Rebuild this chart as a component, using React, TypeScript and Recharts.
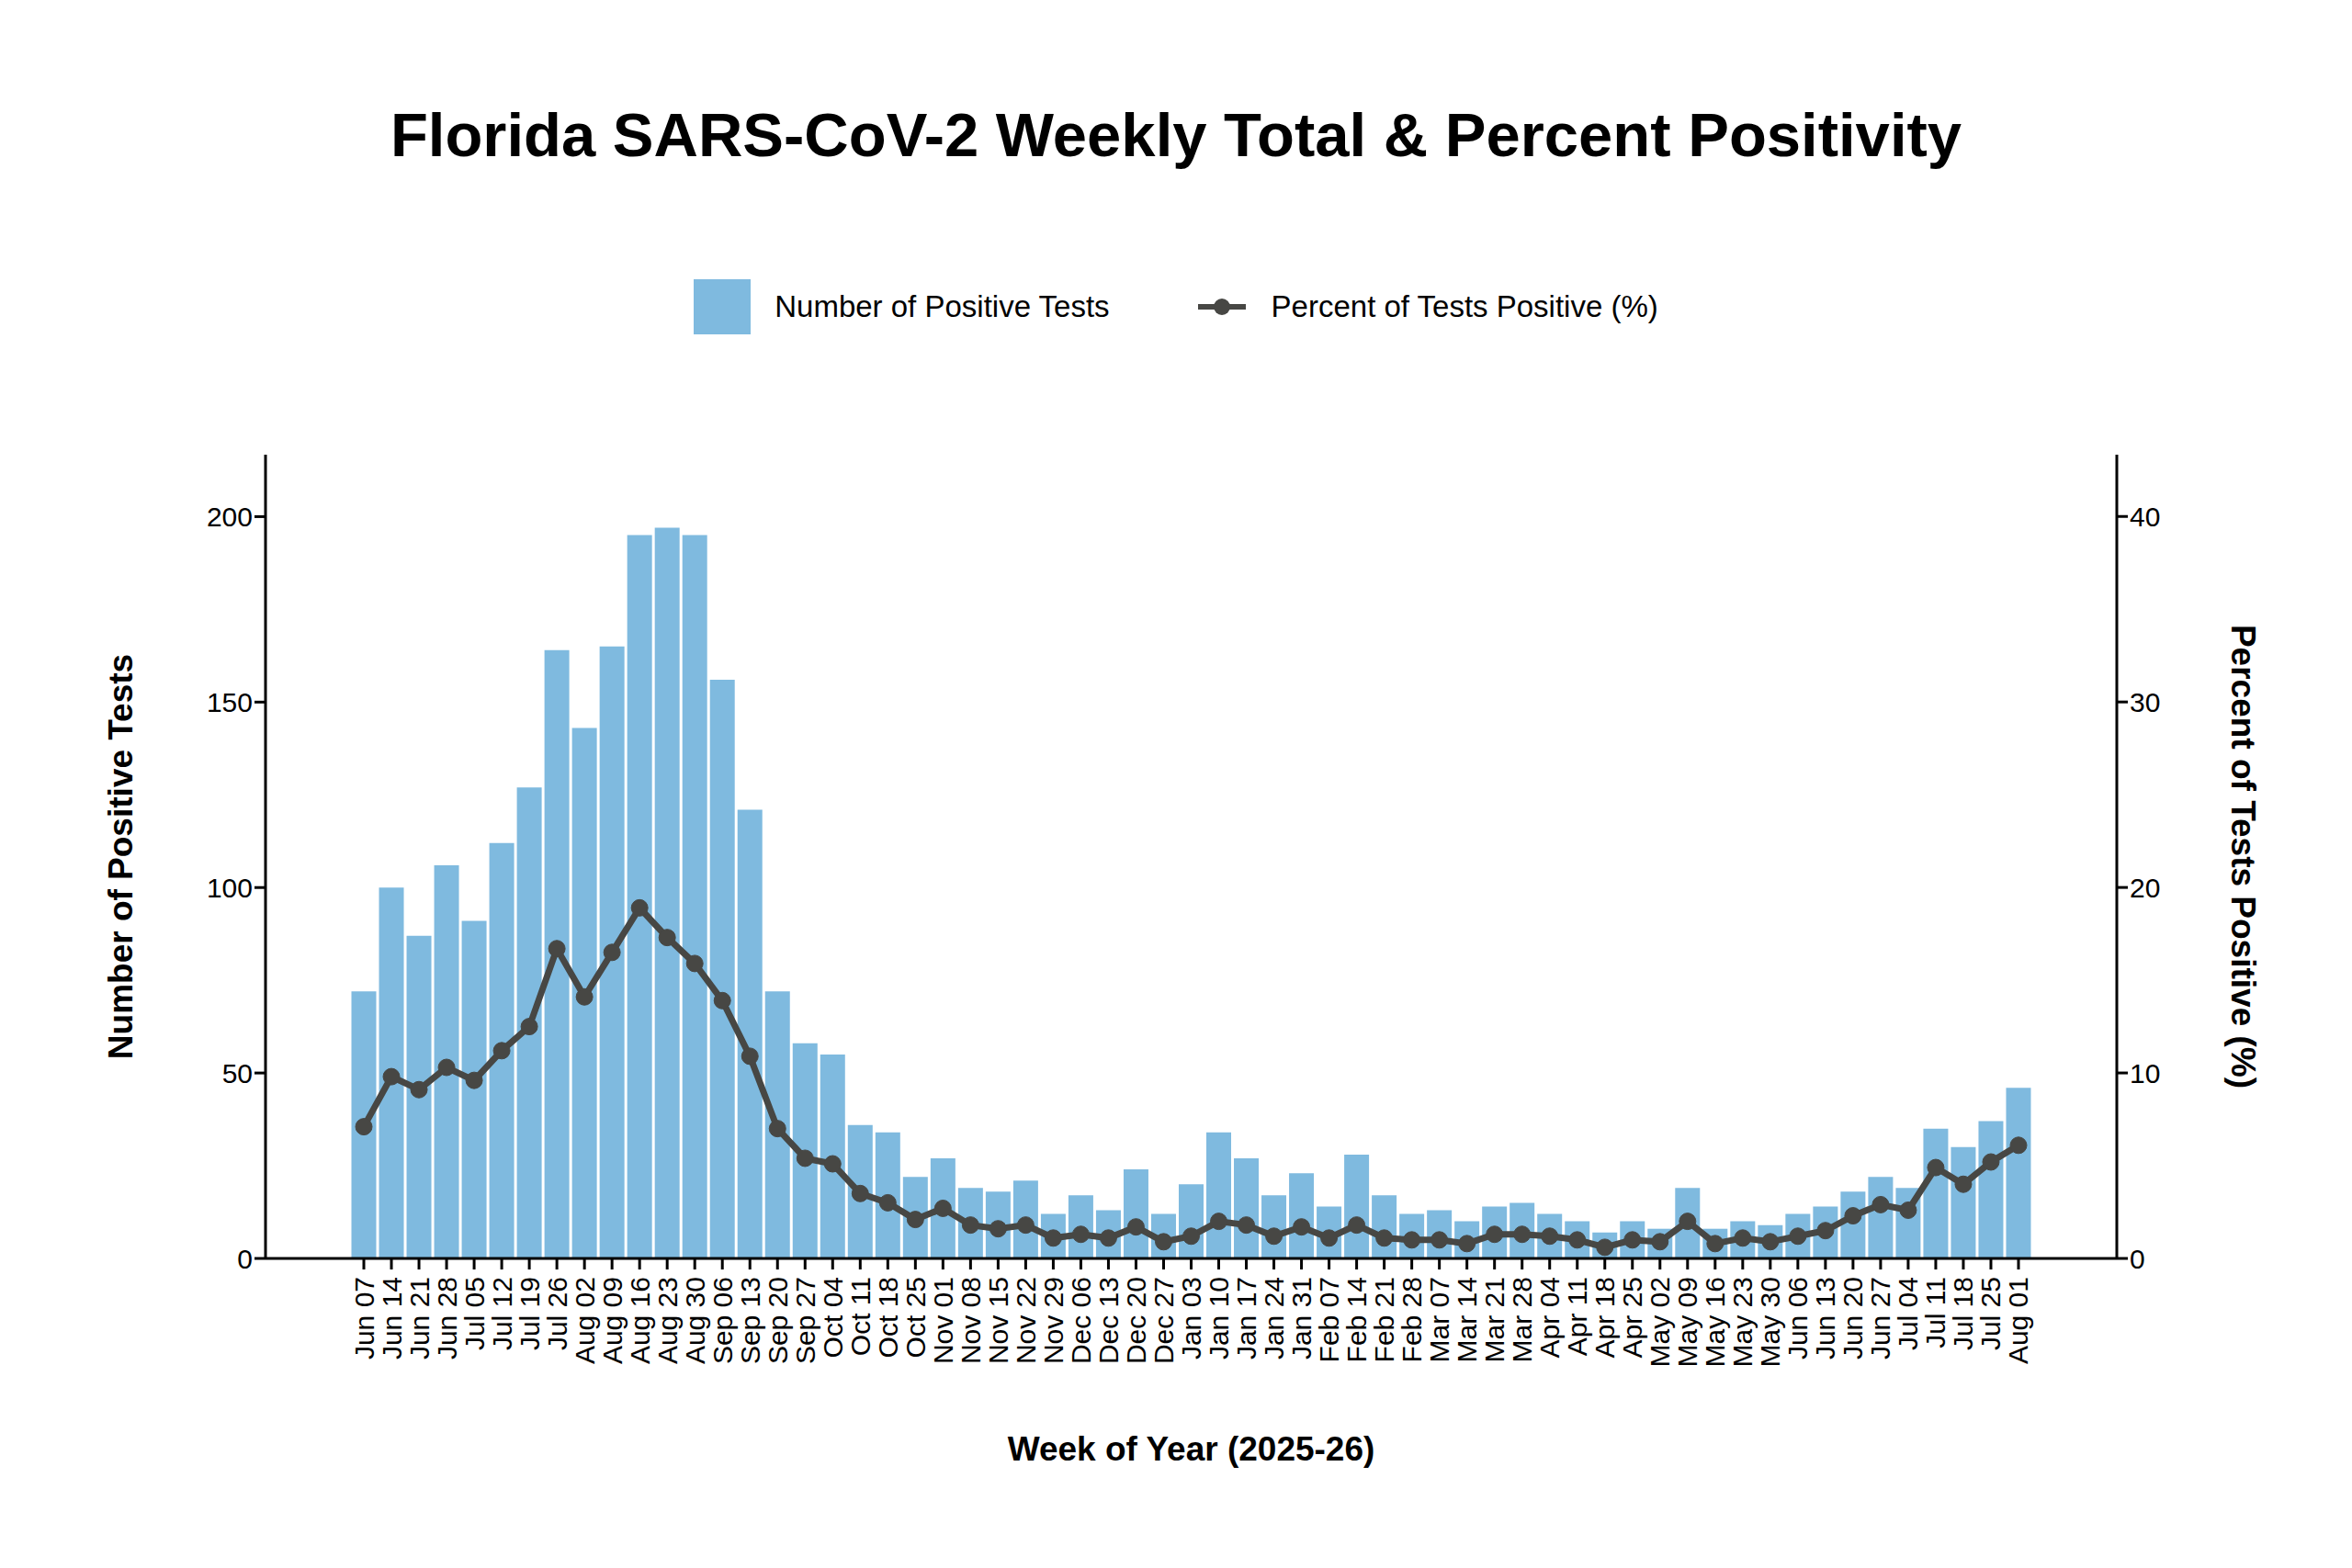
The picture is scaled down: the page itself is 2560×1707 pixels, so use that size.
import React from 'react';
import { ComposedChart, Bar, Line, XAxis, YAxis, Label, Legend } from 'recharts';

const weeks = ['Jun 07','Jun 14','Jun 21','Jun 28','Jul 05','Jul 12','Jul 19','Jul 26','Aug 02','Aug 09','Aug 16','Aug 23','Aug 30','Sep 06','Sep 13','Sep 20','Sep 27','Oct 04','Oct 11','Oct 18','Oct 25','Nov 01','Nov 08','Nov 15','Nov 22','Nov 29','Dec 06','Dec 13','Dec 20','Dec 27','Jan 03','Jan 10','Jan 17','Jan 24','Jan 31','Feb 07','Feb 14','Feb 21','Feb 28','Mar 07','Mar 14','Mar 21','Mar 28','Apr 04','Apr 11','Apr 18','Apr 25','May 02','May 09','May 16','May 23','May 30','Jun 06','Jun 13','Jun 20','Jun 27','Jul 04','Jul 11','Jul 18','Jul 25','Aug 01'];
const positives = [72,100,87,106,91,112,127,164,143,165,195,197,195,156,121,72,58,55,36,34,22,27,19,18,21,12,17,13,24,12,20,34,27,17,23,14,28,17,12,13,10,14,15,12,10,7,10,8,19,8,10,9,12,14,18,22,19,35,30,37,46];
const percent = [7.1,9.8,9.1,10.3,9.6,11.2,12.5,16.7,14.1,16.5,18.9,17.3,15.9,13.9,10.9,7.0,5.4,5.1,3.5,3.0,2.1,2.7,1.8,1.6,1.8,1.1,1.3,1.1,1.7,0.9,1.2,2.0,1.8,1.2,1.7,1.1,1.8,1.1,1.0,1.0,0.8,1.3,1.3,1.2,1.0,0.6,1.0,0.9,2.0,0.8,1.1,0.9,1.2,1.5,2.3,2.9,2.6,4.9,4.0,5.2,6.1];
const leftTicks = [0, 50, 100, 150, 200];
const rightTicks = [0, 10, 20, 30, 40];

const data = weeks.map((w, i) => ({ week: w, pos: positives[i], pct: percent[i] }));

const FONT = '"Liberation Sans", Arial, sans-serif';
const BAR = '#7fbadf';
const LINE = '#474744';

const XTick = (props: any) => {
  const { x, y, payload } = props;
  return (
    <text x={0} y={0} transform={`translate(${x},${y + 6}) rotate(-90)`} textAnchor="end" dominantBaseline="central" fontSize={30} fontFamily={FONT} fill="#000">
      {payload.value}
    </text>
  );
};

const LegendContent = () => (
  <div style={{ display: 'flex', justifyContent: 'center', alignItems: 'center', fontFamily: FONT, fontSize: 33, color: '#000' }}>
    <div style={{ width: 62, height: 60, background: BAR, marginRight: 26 }} />
    <span style={{ marginRight: 94 }}>Number of Positive Tests</span>
    <svg width={56} height={30} style={{ marginRight: 26 }}>
      <line x1={2} y1={15} x2={54} y2={15} stroke={LINE} strokeWidth={6} />
      <circle cx={28} cy={15} r={9} fill={LINE} />
    </svg>
    <span>Percent of Tests Positive (%)</span>
  </div>
);

export default function App() {
  return (
    <div style={{ position: 'relative', width: 2544, height: 1690, background: '#fff' }}>
      <div style={{ position: 'absolute', top: 100, left: 0, width: 2544, textAlign: 'center', fontFamily: FONT, fontWeight: 'bold', fontSize: 67, color: '#000' }}>
        Florida SARS-CoV-2 Weekly Total &amp; Percent Positivity
      </div>
      <ComposedChart width={2544} height={1690} data={data} margin={{ top: 427, right: 128, bottom: 108, left: 161 }} barCategoryGap="5%">
        <Legend verticalAlign="top" content={<LegendContent />} wrapperStyle={{ top: 296, left: 0, width: 2544 }} />
        <XAxis dataKey="week" interval={0} tick={<XTick />} height={220} padding={{ left: 92, right: 92 }} axisLine={{ stroke: '#000', strokeWidth: 3 }} tickLine={{ stroke: '#000', strokeWidth: 3 }} tickSize={12}>
          <Label value="Week of Year (2025-26)" position="insideBottom" offset={0} fontSize={37} fontWeight="bold" fontFamily={FONT} fill="#000" />
        </XAxis>
        <YAxis yAxisId="l" width={120} domain={[0, 216.7]} ticks={leftTicks} allowDataOverflow tick={{ fontSize: 30, fontFamily: FONT, fill: '#000' }} axisLine={{ stroke: '#000', strokeWidth: 3 }} tickLine={{ stroke: '#000', strokeWidth: 3 }} tickSize={12}>
          <Label value="Number of Positive Tests" angle={-90} position="left" offset={38} textAnchor="middle" fontSize={37} fontWeight="bold" fontFamily={FONT} fill="#000" />
        </YAxis>
        <YAxis yAxisId="r" orientation="right" width={120} domain={[0, 43.33]} ticks={rightTicks} allowDataOverflow tick={{ fontSize: 30, fontFamily: FONT, fill: '#000' }} axisLine={{ stroke: '#000', strokeWidth: 3 }} tickLine={{ stroke: '#000', strokeWidth: 3 }} tickSize={12}>
          <Label value="Percent of Tests Positive (%)" angle={90} position="right" offset={18} textAnchor="middle" fontSize={37} fontWeight="bold" fontFamily={FONT} fill="#000" />
        </YAxis>
        <Bar yAxisId="l" dataKey="pos" fill={BAR} isAnimationActive={false} />
        <Line yAxisId="r" dataKey="pct" stroke={LINE} strokeWidth={7} dot={{ r: 9, fill: LINE, stroke: LINE, strokeWidth: 1 }} activeDot={false} isAnimationActive={false} />
      </ComposedChart>
    </div>
  );
}
